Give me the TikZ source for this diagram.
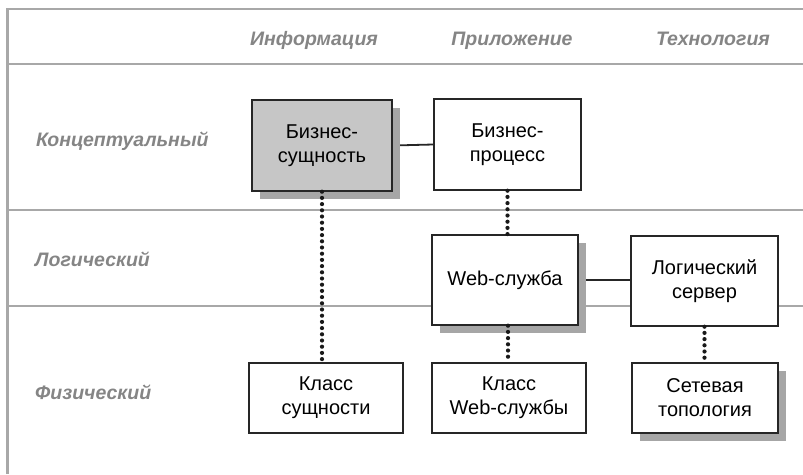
\documentclass[tikz,border=0pt]{standalone}
\usepackage{fontspec}
\setmainfont{Liberation Sans}
\usetikzlibrary{shadows}
\definecolor{gridc}{HTML}{A8A8A8}
\definecolor{labelc}{HTML}{858585}
\definecolor{entityc}{HTML}{C6C6C6}
\definecolor{shadowc}{HTML}{A6A6A6}
\pgfdeclarelayer{background}
\pgfsetlayers{background,main}
\tikzset{
  gridline/.style={draw=gridc, line width=2.6pt},
  hdr/.style={font=\fontsize{19.5}{23}\selectfont\bfseries\itshape, text=labelc, inner sep=0pt, anchor=base},
  rowlbl/.style={font=\fontsize{19.5}{23}\selectfont\bfseries\itshape, text=labelc, inner sep=0pt, anchor=base west},
  box/.style={draw=black!85, line width=1.4pt, fill=white, align=center, inner sep=0pt,
    font=\fontsize{20}{24}\selectfont},
  shadowed/.style={drop shadow={shadow xshift=8pt, shadow yshift=-8pt, fill=shadowc, opacity=1}},
  solidlink/.style={draw=black!85, line width=1.8pt},
  dotlink/.style={draw=black!90, line width=4.2pt, line cap=round, dash pattern=on 0pt off 6.2pt}
}
\begin{document}
\begin{tikzpicture}[x=1pt,y=-1pt]
\useasboundingbox (0,0) rectangle (803,474);

% column headers
\node[hdr] (hInfo) at (314,45) {Информация};
\node[hdr] (hApp) at (512,45) {Приложение};
\node[hdr] (hTech) at (713,45) {Технология};

% row labels
\node[rowlbl] (rConc) at (36,146) {Концептуальный};
\node[rowlbl] (rLog) at (35,266) {Логический};
\node[rowlbl] (rPhys) at (35,399) {Физический};

% boxes
\node[box, shadowed, fill=entityc, minimum width=140pt, minimum height=91pt] (bs) at (322,145.5) {Бизнес-\\сущность};
\node[box, minimum width=147pt, minimum height=91pt] (bp) at (507.5,144.5) {Бизнес-\\процесс};
\node[box, shadowed, minimum width=146pt, minimum height=90pt] (ws) at (505,280) {Web-служба};
\node[box, minimum width=147pt, minimum height=90pt] (ls) at (704.5,281) {Логический\\сервер};
\node[box, minimum width=154pt, minimum height=70pt] (ks) at (326,398) {Класс\\сущности};
\node[box, minimum width=154pt, minimum height=70pt] (kw) at (509,398) {Класс\\Web-службы};
\node[box, shadowed, minimum width=146pt, minimum height=70pt] (st) at (705,398) {Сетевая\\топология};

\begin{pgfonlayer}{background}
  \coordinate (tl) at (7.5,9);
  \coordinate (tr) at (803,9);
  \coordinate (bl) at (7.5,474);
  \coordinate (l1) at (7.5,64);
  \coordinate (r1) at (803,64);
  \coordinate (l2) at (7.5,210);
  \coordinate (r2) at (803,210);
  \coordinate (l3) at (7.5,306);
  \coordinate (r3) at (803,306);
  \draw[gridline] (bl) -- (tl) -- (tr);
  \draw[gridline] (l1) -- (r1);
  \draw[gridline] (l2) -- (r2);
  \draw[gridline] (l3) -- (r3);
  \draw[solidlink] (bs.east) -- (bp.west);
  \draw[solidlink] (ws.east) -- (ws.east -| ls.west);
\end{pgfonlayer}

% dotted links
\draw[dotlink] (bs.south) -- (bs.south |- ks.north);
\draw[dotlink] (bp.south) -- (bp.south |- ws.north);
\draw[dotlink] ([xshift=3pt]ws.south) -- ([xshift=3pt]ws.south |- kw.north);
\draw[dotlink] (ls.south) -- (ls.south |- st.north);
\end{tikzpicture}
\end{document}
